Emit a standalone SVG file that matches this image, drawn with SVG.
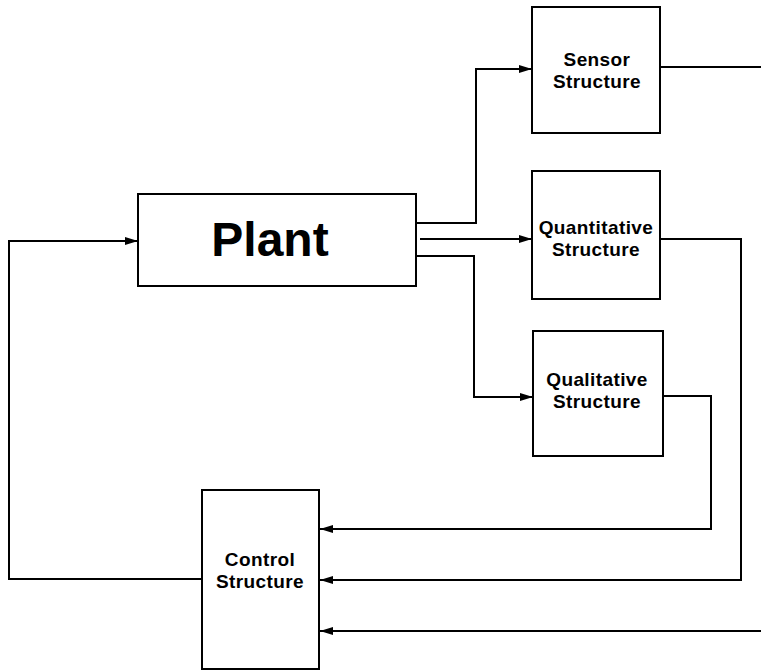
<svg xmlns="http://www.w3.org/2000/svg" width="761" height="670" viewBox="0 0 761 670">
<defs>
<marker id="arr" markerWidth="13" markerHeight="9" refX="13" refY="4.5" orient="auto" markerUnits="userSpaceOnUse">
<path d="M0,0.5 L13,4.5 L0,8.5 Z" fill="#000"/>
</marker>
<style>
.box{fill:#fff;stroke:#000;stroke-width:2}
.lbl{font-family:"Liberation Sans",Arial,sans-serif;font-weight:bold;font-size:19px;letter-spacing:0.4px;text-anchor:middle;fill:#000}
.big{font-family:"Liberation Sans",Arial,sans-serif;font-weight:bold;font-size:48px;text-anchor:middle;fill:#000}
.c{fill:none;stroke:#000;stroke-width:2}
</style>
</defs>
<rect width="761" height="670" fill="#fff"/>
<g id="connectors">
<path class="c" d="M416,223 H476 V69 H532" marker-end="url(#arr)"/>
<path class="c" d="M420,239 H532" marker-end="url(#arr)"/>
<path class="c" d="M416,256 H474 V397 H533" marker-end="url(#arr)"/>
<path class="c" d="M660,67 H761"/>
<path class="c" d="M660,239 H741 V580 H320" marker-end="url(#arr)"/>
<path class="c" d="M663,396 H711 V529 H320" marker-end="url(#arr)"/>
<path class="c" d="M761,631 H320" marker-end="url(#arr)"/>
<path class="c" d="M202,579 H9 V241 H138" marker-end="url(#arr)"/>
</g>
<g id="plant">
<rect class="box" x="138" y="194" width="278" height="92"/>
<text class="big" x="270" y="256">Plant</text>
</g>
<g id="sensor">
<rect class="box" x="532" y="7" width="128" height="126"/>
<text class="lbl" x="597" y="66">Sensor</text>
<text class="lbl" x="597" y="87.5">Structure</text>
</g>
<g id="quantitative">
<rect class="box" x="532" y="171" width="128" height="128"/>
<text class="lbl" x="596" y="234">Quantitative</text>
<text class="lbl" x="596" y="255.5">Structure</text>
</g>
<g id="qualitative">
<rect class="box" x="533" y="331" width="130" height="125"/>
<text class="lbl" x="597" y="386">Qualitative</text>
<text class="lbl" x="597" y="407.5">Structure</text>
</g>
<g id="control">
<rect class="box" x="202" y="490" width="117" height="179"/>
<text class="lbl" x="260" y="566">Control</text>
<text class="lbl" x="260" y="587.5">Structure</text>
</g>
</svg>
